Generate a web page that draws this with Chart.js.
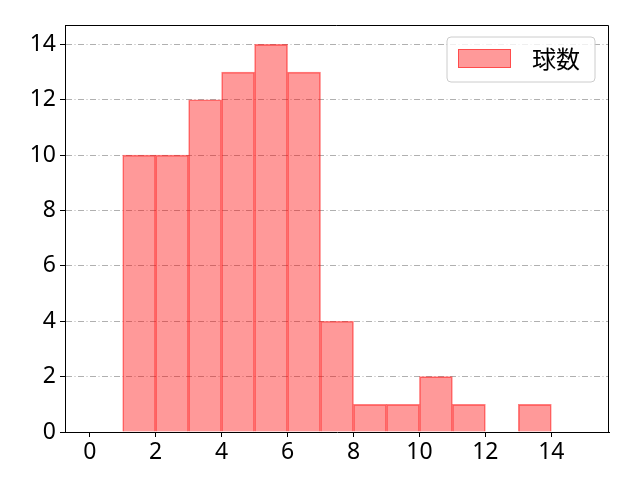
<!DOCTYPE html>
<html><head><meta charset="utf-8">
<script src="https://cdn.jsdelivr.net/npm/chart.js@4.4.0/dist/chart.umd.min.js"></script>
<style>html,body{margin:0;padding:0;background:#fff}#wrap{width:640px;height:480px}</style>
</head><body><div id="wrap"><canvas id="c" width="640" height="480"></canvas></div>
<script>
const binStarts = [0,1,2,3,4,5,6,7,8,9,10,11,12,13,14];
const counts    = [0,10,10,12,13,14,13,4,1,1,2,1,0,1,0];
const xTicks = [0,2,4,6,8,10,12,14];
const yTicks = [0,2,4,6,8,10,12,14];
const seriesLabel = '球数';
const FONT = '"Noto Sans", "Noto Sans CJK JP", sans-serif';

const data = binStarts.map((s,i)=>({x:s+0.5,y:counts[i]}));

const frame = {
  id:'frame',
  afterDraw(chart){
    const {ctx, chartArea:a} = chart;
    ctx.save();
    ctx.strokeStyle='#000'; ctx.lineWidth=1;
    ctx.beginPath();
    ctx.moveTo(a.left, a.top+0.5); ctx.lineTo(a.right-0.5, a.top+0.5); ctx.lineTo(a.right-0.5, a.bottom);
    ctx.stroke();
    // legend
    const lx=447, ly=37, lw=148, lh=45, r=4;
    ctx.beginPath();
    ctx.moveTo(lx+r,ly);ctx.lineTo(lx+lw-r,ly);ctx.quadraticCurveTo(lx+lw,ly,lx+lw,ly+r);
    ctx.lineTo(lx+lw,ly+lh-r);ctx.quadraticCurveTo(lx+lw,ly+lh,lx+lw-r,ly+lh);
    ctx.lineTo(lx+r,ly+lh);ctx.quadraticCurveTo(lx,ly+lh,lx,ly+lh-r);
    ctx.lineTo(lx,ly+r);ctx.quadraticCurveTo(lx,ly,lx+r,ly);ctx.closePath();
    ctx.fillStyle='rgba(255,255,255,0.8)';ctx.fill();
    ctx.strokeStyle='#cccccc';ctx.stroke();
    ctx.fillStyle='rgba(255,0,0,0.4)';ctx.fillRect(458,49,53,19);
    ctx.strokeStyle='rgba(255,0,0,0.5)';ctx.strokeRect(458.5,49.5,52,18);
    ctx.fillStyle='#000';ctx.font='24px "Noto Sans CJK JP", sans-serif';ctx.textBaseline='middle';ctx.textAlign='left';
    ctx.fillText(seriesLabel,532,59);
    ctx.restore();
  }
};

new Chart(document.getElementById('c'),{
  type:'bar',
  data:{datasets:[{label:seriesLabel,data:data,
    backgroundColor:'rgba(255,0,0,0.4)',borderColor:'rgba(255,0,0,0.5)',borderWidth:1,
    barPercentage:1,categoryPercentage:1,grouped:false}]},
  options:{
    responsive:false,animation:false,devicePixelRatio:1,
    layout:{padding:{left:0,right:31,top:25,bottom:0}},
    plugins:{legend:{display:false},tooltip:{enabled:false}},
    scales:{
      x:{type:'linear',min:-0.75,max:15.75,offset:false,
        afterBuildTicks(s){s.ticks=xTicks.map(v=>({value:v}));},
        afterFit(s){s.height=48;},
        grid:{offset:false,drawOnChartArea:false,drawTicks:true,tickLength:5,tickColor:'#000'},
        border:{display:true,color:'#000'},
        ticks:{color:'#000',font:{family:FONT,size:23},padding:2,maxRotation:0,autoSkip:false}},
      y:{min:0,max:14.7,z:1,
        afterBuildTicks(s){s.ticks=yTicks.map(v=>({value:v}));},
        afterFit(s){s.width=65;},
        grid:{color:'#b0b0b0',lineWidth:1,tickLength:5,tickColor:'#000',tickBorderDash:[]},
        border:{display:true,color:'#000',dash:[6,2.5,1,2.5]},
        ticks:{color:'#000',font:{family:FONT,size:23},padding:4,autoSkip:false}}
    }
  },
  plugins:[frame]
});
</script></body></html>
